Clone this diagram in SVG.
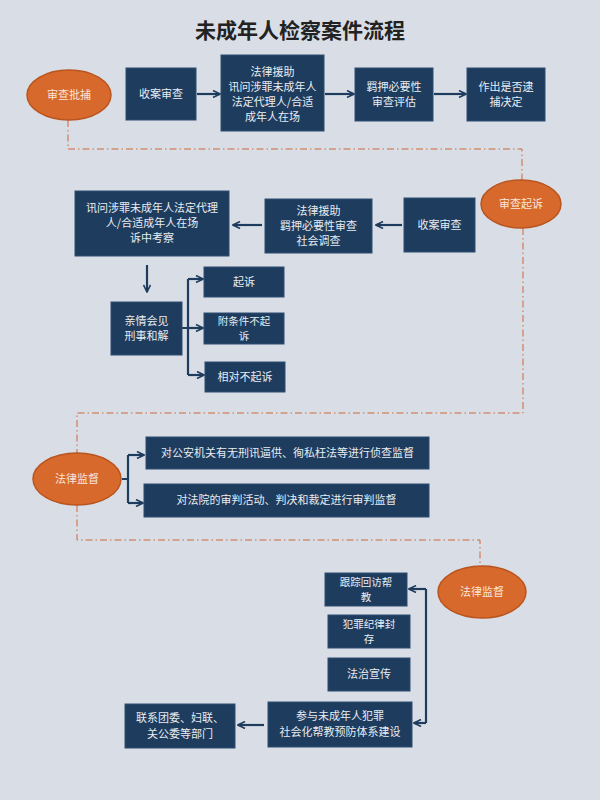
<svg xmlns="http://www.w3.org/2000/svg" width="600" height="800" viewBox="0 0 600 800">
<defs>
<style>
.bg{fill:#d9dee6}
.box{fill:#1e3c5e;stroke:#2d4d70;stroke-width:1}
.ell{fill:#d8692c;stroke:#b9551f;stroke-width:1.5}
.t{font-family:"Noto Sans CJK SC","Noto Sans CJK TC",sans-serif;font-size:11px;fill:#e8edf2;text-anchor:middle}
.s{font-size:10.5px}
.et{font-family:"Noto Sans CJK SC",sans-serif;font-size:11px;fill:#f7e6da;text-anchor:middle}
.title{font-family:"Noto Sans CJK SC",sans-serif;font-size:21px;font-weight:bold;fill:#222;text-anchor:middle}
.ar{fill:none;stroke:#1e3c5e;stroke-width:2.2}
.dash{fill:none;stroke:#d0673a;stroke-width:1;stroke-dasharray:7 3 1.5 3}
</style>
<marker id="ah" viewBox="0 0 10 10" refX="9" refY="5" markerWidth="4" markerHeight="4" orient="auto" markerUnits="strokeWidth">
<path d="M1,1 L9,5 L1,9" fill="none" stroke="#1e3c5e" stroke-width="1.8"/>
</marker>
</defs>
<rect class="bg" x="0" y="0" width="600" height="800"/>
<text class="title" x="300" y="38">未成年人检察案件流程</text>

<g id="connectors">
<path class="dash" d="M68,120 V149 H522 V180"/>
<path class="dash" d="M523,228 V413 H77 V453"/>
<path class="dash" d="M77,505 V540 H480 V566"/>
<path class="ar" marker-end="url(#ah)" d="M197,94 H220"/>
<path class="ar" marker-end="url(#ah)" d="M325,94 H354"/>
<path class="ar" marker-end="url(#ah)" d="M434,94 H466"/>
<path class="ar" marker-end="url(#ah)" d="M402,225 H376"/>
<path class="ar" marker-end="url(#ah)" d="M262,225 H233"/>
<path class="ar" marker-end="url(#ah)" d="M147,265 V292"/>
<path class="ar" d="M182,328 H188 M188,279 V375"/>
<path class="ar" marker-end="url(#ah)" d="M188,279 H203"/>
<path class="ar" marker-end="url(#ah)" d="M188,328 H203"/>
<path class="ar" marker-end="url(#ah)" d="M188,375 H204"/>
<path class="ar" d="M122,479 H128 M128,455 V503"/>
<path class="ar" marker-end="url(#ah)" d="M128,455 H144"/>
<path class="ar" marker-end="url(#ah)" d="M128,503 H143"/>
<path class="ar" d="M426,589 V723"/>
<path class="ar" marker-end="url(#ah)" d="M426,589 H409"/>
<path class="ar" marker-end="url(#ah)" d="M426,723 H414"/>
<path class="ar" marker-end="url(#ah)" d="M264,725 H238"/>
</g>

<g id="n1"><ellipse class="ell" cx="69" cy="95" rx="42" ry="25"/><text class="et" x="69" y="99">审查批捕</text></g>
<g id="n2"><rect class="box" x="126" y="68" width="70" height="52"/><text class="t" x="161" y="98">收案审查</text></g>
<g id="n3"><rect class="box" x="221" y="55" width="103" height="76"/><text class="t" x="272.5" y="76">法律援助</text><text class="t" x="272.5" y="91">讯问涉罪未成年人</text><text class="t" x="272.5" y="106">法定代理人/合适</text><text class="t" x="272.5" y="121">成年人在场</text></g>
<g id="n4"><rect class="box" x="355" y="68" width="78" height="53"/><text class="t" x="394" y="91">羁押必要性</text><text class="t" x="394" y="106">审查评估</text></g>
<g id="n5"><rect class="box" x="467" y="68" width="78" height="53"/><text class="t" x="506" y="91">作出是否逮</text><text class="t" x="506" y="106">捕决定</text></g>

<g id="n6"><ellipse class="ell" cx="521" cy="204" rx="40" ry="24"/><text class="et" x="521" y="208">审查起诉</text></g>
<g id="n7"><rect class="box" x="404" y="198" width="71" height="54"/><text class="t" x="439.5" y="229">收案审查</text></g>
<g id="n8"><rect class="box" x="265" y="199" width="107" height="54"/><text class="t" x="318.5" y="215">法律援助</text><text class="t" x="318.5" y="230">羁押必要性审查</text><text class="t" x="318.5" y="245">社会调查</text></g>
<g id="n9"><rect class="box" x="75" y="191" width="154" height="65"/><text class="t" x="152" y="212">讯问涉罪未成年人法定代理</text><text class="t" x="152" y="227">人/合适成年人在场</text><text class="t" x="152" y="242">诉中考察</text></g>
<g id="n10"><rect class="box" x="111" y="302" width="71" height="53"/><text class="t" x="146.5" y="325">亲情会见</text><text class="t" x="146.5" y="340">刑事和解</text></g>
<g id="n11"><rect class="box" x="204" y="267" width="80" height="30"/><text class="t" x="244" y="286">起诉</text></g>
<g id="n12"><rect class="box" x="204" y="313" width="80" height="31"/><text class="t s" x="244" y="325">附条件不起</text><text class="t s" x="244" y="340">诉</text></g>
<g id="n13"><rect class="box" x="205" y="362" width="80" height="30"/><text class="t" x="245" y="381">相对不起诉</text></g>

<g id="n14"><ellipse class="ell" cx="77" cy="479" rx="44" ry="26"/><text class="et" x="77" y="483">法律监督</text></g>
<g id="n15"><rect class="box" x="146" y="437" width="283" height="32"/><text class="t" x="287.5" y="457">对公安机关有无刑讯逼供、徇私枉法等进行侦查监督</text></g>
<g id="n16"><rect class="box" x="144" y="484" width="285" height="33"/><text class="t" x="286.5" y="504">对法院的审判活动、判决和裁定进行审判监督</text></g>

<g id="n17"><ellipse class="ell" cx="482" cy="592" rx="44" ry="26"/><text class="et" x="482" y="596">法律监督</text></g>
<g id="n18"><rect class="box" x="325" y="573" width="82" height="33"/><text class="t s" x="366" y="586">跟踪回访帮</text><text class="t s" x="366" y="601">教</text></g>
<g id="n19"><rect class="box" x="328" y="615" width="82" height="33"/><text class="t s" x="369" y="628">犯罪纪律封</text><text class="t s" x="369" y="643">存</text></g>
<g id="n20"><rect class="box" x="328" y="658" width="82" height="33"/><text class="t" x="369" y="678">法治宣传</text></g>
<g id="n21"><rect class="box" x="268" y="702" width="144" height="45"/><text class="t" x="340" y="720">参与未成年人犯罪</text><text class="t" x="340" y="736">社会化帮教预防体系建设</text></g>
<g id="n22"><rect class="box" x="125" y="704" width="110" height="44"/><text class="t" x="180" y="722">联系团委、妇联、</text><text class="t" x="180" y="738">关公委等部门</text></g>
</svg>
